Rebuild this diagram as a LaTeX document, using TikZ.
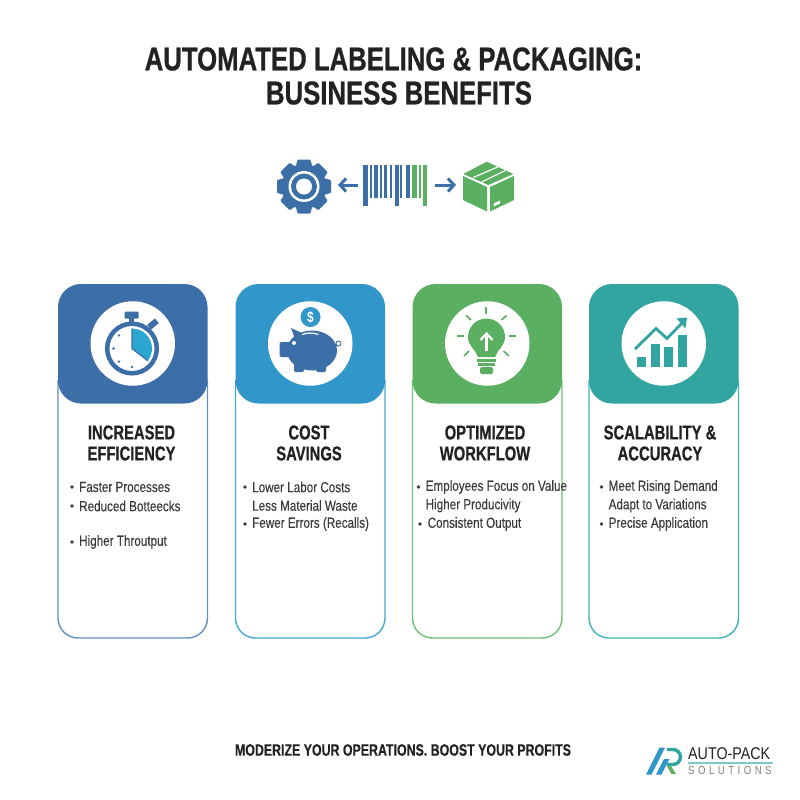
\documentclass[tikz,border=0pt]{standalone}
\usepackage{fontspec}
\setmainfont{Liberation Sans}
\newfontfamily\titlef[FakeStretch=0.78,FakeBold=0.7]{Liberation Sans Bold}
\newfontfamily\headf[FakeStretch=0.74,FakeBold=0.5]{Liberation Sans Bold}
\newfontfamily\tagf[FakeStretch=0.75,FakeBold=0.2]{Liberation Sans Bold}
\newfontfamily\condb[FakeStretch=0.80]{Liberation Sans Bold}
\newfontfamily\condr[FakeStretch=0.80,FakeBold=0.15]{Liberation Sans}
\newfontfamily\logof[FakeStretch=0.84]{Liberation Sans}
\usetikzlibrary{arrows.meta}
\definecolor{cblue}{HTML}{3C6EA8}
\definecolor{csky}{HTML}{3196C9}
\definecolor{cgreen}{HTML}{5BAF60}
\definecolor{cteal}{HTML}{32A5A0}
\definecolor{lblue}{HTML}{6090C6}
\definecolor{lsky}{HTML}{48A6D6}
\definecolor{lgreen}{HTML}{70C078}
\definecolor{lteal}{HTML}{42B4B6}
\definecolor{ink}{HTML}{222222}
\definecolor{body}{HTML}{3A3A3A}
\tikzset{
  titletext/.style={font=\titlef\fontsize{33}{34}\selectfont,text=ink,align=center,inner sep=0pt},
  headtext/.style={font=\headf\fontsize{20}{21}\selectfont,text=ink,align=center,inner sep=0pt},
  bullettext/.style={font=\condr\fontsize{14.6}{18}\selectfont,text=body,anchor=west,inner sep=0pt},
  dot/.style={circle,fill=body,inner sep=0pt,minimum size=3.6pt},
  disc/.style={circle,fill=white,inner sep=0pt,minimum size=84.5pt},
  flowarrow/.style={draw=cblue,line width=3pt,-{Straight Barb[length=6pt,width=13pt,line width=3pt]}},
}
\newcommand{\card}[4]{% x, fill, line, name
  \draw[#3,line width=1.4pt] (#1,380) -- (#1,618) arc[start angle=180,end angle=90,radius=20] -- (#1+129.5,638) arc[start angle=90,end angle=0,radius=20] -- (#1+149.5,380);
  \fill[#2,rounded corners=23pt] (#1,284) rectangle (#1+149.5,403.5);
  \node[disc] (#4) at (#1+74.75,343.5) {};
}
\begin{document}
\begin{tikzpicture}[x=1pt,y=-1pt]
\useasboundingbox (0,0) rectangle (800,800);
\fill[white] (0,0) rectangle (800,800);
% title
\node[titletext] (title1) at (393.5,59) {AUTOMATED LABELING \& PACKAGING:};
\node[titletext] (title2) at (399,93) {BUSINESS BENEFITS};
% top icons
\coordinate (gear) at (304,186.5);
\fill[cblue] (gear) circle (22.5);
\foreach \a in {0,45,...,315}{
  \fill[cblue,rotate around={\a:(gear)},rounded corners=1pt] (297.5,159.5) -- (310.5,159.5) -- (313,170) -- (295,170) -- cycle;
}
\fill[white] (gear) circle (15.5);
\fill[cblue] (gear) circle (13);
\fill[white] (gear) circle (8);
\foreach \xa/\xb/\yb/\c in {363.3/368/205.5/cblue,370/372/198/cblue,373.7/378/198/cblue,380/382.3/198/cblue,384/387.3/198/cblue,390.3/392/198/cblue,394.7/398.7/205.5/cblue,400/402/198/cblue,406/410.3/198/cblue,412.3/416.7/198/cgreen,419/420.7/198/cgreen,423/427/205.5/cgreen}{
  \fill[\c] (\xa,165) rectangle (\xb,\yb);
}
\draw[flowarrow] (358,185) -- (338,185);
\draw[flowarrow] (435,185) -- (456,185);
% box
\fill[cgreen] (486.7,161.7) -- (513.3,174) -- (488.3,185) -- (463.3,174) -- cycle;
\fill[cgreen] (463,176) -- (487,187) -- (487,211.5) -- (463,200) -- cycle;
\fill[cgreen] (490,187) -- (514,176) -- (514,200) -- (490,211.5) -- cycle;
\draw[white,line width=1.2pt] (473.3,177.5) -- (498.3,166.7);
\draw[white,line width=1.2pt] (481.7,182) -- (505,170.7);
\fill[white] (493.5,203.5) -- (500,200.5) -- (500,203.5) -- (493.5,206.5) -- cycle;
% cards
\card{58}{cblue}{lblue}{disc1}
\card{235.5}{csky}{lsky}{disc2}
\card{412.5}{cgreen}{lgreen}{disc3}
\card{589}{cteal}{lteal}{disc4}
% stopwatch
\coordinate (sw) at (132,348.5);
\fill[cblue,rounded corners=1pt] (124.5,311.5) rectangle (138.5,318.5);
\fill[cblue] (129,318) rectangle (134,325);
\fill[cblue,rotate around={40:(153,324)}] (148,321) rectangle (158,327);
\draw[cblue,line width=4.5pt] (sw) circle (24.8);
\fill[csky!85!cyan] (sw) -- (132,328.5) arc[start angle=-90,end angle=38,radius=20] -- cycle;
\draw[cblue,line width=1.2pt] (132,328.5) -- (sw) -- ++(38:20);
\foreach \a in {90,135,180,225}{\fill[cblue] (sw) ++(\a:18.5) circle (1.3);}
% piggy
\fill[csky] (310.5,317) circle (10);
\node[font=\condb\fontsize{15}{15}\selectfont,text=white,inner sep=0pt] (dollar) at (310.5,317) {\$};
\fill[cblue] (312,350.5) ellipse (25 and 20);
\fill[cblue,rounded corners=2pt] (279.5,342) rectangle (296,357);
\fill[cblue] (291,328) -- (304,334) -- (296,342) -- cycle;
\fill[cblue,rounded corners=1.5pt] (294,360) rectangle (304,372);
\fill[cblue,rounded corners=1.5pt] (316,360) rectangle (326,372);
\fill[white] (294,343) circle (2);
\draw[white,line width=1.2pt] (302,334.5) arc[start angle=-110,end angle=-70,radius=24];
\draw[cblue,line width=0.9pt] (335,346) -- (338,345.5);
\draw[cblue,line width=0.9pt] (338.5,343.5) circle (2.5);
% bulb
\fill[cgreen] (478,357) .. controls (476,350) and (468,346) .. (468,337) arc[start angle=180,end angle=360,radius=18.5] .. controls (505,346) and (497,350) .. (495,357) -- cycle;
\draw[white,line width=2.2pt] (486.5,351) -- (486.5,334);
\draw[white,line width=2.2pt] (480.5,340) -- (486.5,333.5) -- (492.5,340);
\fill[cgreen] (477,359) rectangle (496,361.5);
\fill[cgreen] (478,363) rectangle (495,365.5);
\fill[cgreen,rounded corners=1.5pt] (480,367) rectangle (493,374);
\draw[cgreen,line width=1.6pt] (486,307) -- (486,314);
\draw[cgreen,line width=1.6pt] (466,315.5) -- (471,320);
\draw[cgreen,line width=1.6pt] (506.5,315.5) -- (501.5,320);
\draw[cgreen,line width=1.6pt] (457,336) -- (464,336);
\draw[cgreen,line width=1.6pt] (508.5,336) -- (516,336);
\draw[cgreen,line width=1.6pt] (464,356) -- (469,351);
\draw[cgreen,line width=1.6pt] (509,356) -- (503.5,351);
% chart
\fill[cteal] (636.5,356.5) rectangle (645.5,367);
\fill[cteal] (650.5,343.5) rectangle (659.5,367);
\fill[cteal] (664,347) rectangle (673,367);
\fill[cteal] (677.5,334.5) rectangle (686.5,367);
\draw[cteal,line width=2.8pt] (635,349) -- (656,328.5) -- (667,338.5) -- (683,322);
\fill[cteal] (687,317.5) -- (676.5,318.5) -- (685.5,328.5) -- cycle;
% headings
\node[headtext] (h1) at (131.5,443) {INCREASED\\EFFICIENCY};
\node[headtext] (h2) at (309,443) {COST\\SAVINGS};
\node[headtext] (h3) at (485,443) {OPTIMIZED\\WORKFLOW};
\node[headtext] (h4) at (660,443) {SCALABILITY \&\\ACCURACY};
% bullets
\node[dot] (d11) at (72,487) {};
\node[bullettext] (b11) at (79,487) {Faster Processes};
\node[dot] (d12) at (72,506) {};
\node[bullettext] (b12) at (79,506) {Reduced Botteecks};
\node[dot] (d13) at (72,542) {};
\node[bullettext] (b13) at (79,542) {Higher Throutput};
\node[dot] (d21) at (245,487) {};
\node[bullettext] (b21) at (252,487) {Lower Labor Costs};
\node[bullettext] (b22) at (252,505.5) {Less Material Waste};
\node[dot] (d23) at (245,524) {};
\node[bullettext] (b23) at (252,524) {Fewer Errors (Recalls)};
\node[dot] (d31) at (418.5,487) {};
\node[bullettext] (b31) at (425.5,487) {Employees Focus on Value};
\node[bullettext] (b32) at (425.5,505.5) {Higher Producivity};
\node[dot] (d33) at (420,524) {};
\node[bullettext] (b33) at (427.5,524) {Consistent Output};
\node[dot] (d41) at (601.5,487) {};
\node[bullettext] (b41) at (608.5,487) {Meet Rising Demand};
\node[bullettext] (b42) at (608.5,505.5) {Adapt to Variations};
\node[dot] (d43) at (601.5,524) {};
\node[bullettext] (b43) at (608.5,524) {Precise Application};
% tagline
\node[font=\tagf\fontsize{16.5}{18}\selectfont,text=ink,inner sep=0pt] (tag) at (403,750) {MODERIZE YOUR OPERATIONS. BOOST YOUR PROFITS};
% logo
\fill[csky] (646,774.5) -- (659.5,747.5) -- (665,747.5) -- (651.5,774.5) -- cycle;
\draw[cteal,line width=3.4pt] (667,749.5) -- (673,749.5) arc[start angle=-90,end angle=90,radius=7.5] -- (667,764.5);
\fill[csky] (656,774.5) -- (664,759) -- (669.5,759) -- (661.5,774.5) -- cycle;
\fill[cgreen] (667,766) -- (671,766) -- (676,774) -- (671.5,774) -- cycle;
\node[font=\logof\fontsize{17}{17}\selectfont,text=ink,anchor=west,inner sep=0pt] (logo1) at (688,754) {AUTO-PACK};
\fill[lteal!70] (688,762) rectangle (773,763.5);
\node[font=\logof\fontsize{11.5}{12}\selectfont\addfontfeatures{LetterSpace=30},text=gray,anchor=west,inner sep=0pt] (logo2) at (688,771) {SOLUTIONS};
\end{tikzpicture}
\end{document}
